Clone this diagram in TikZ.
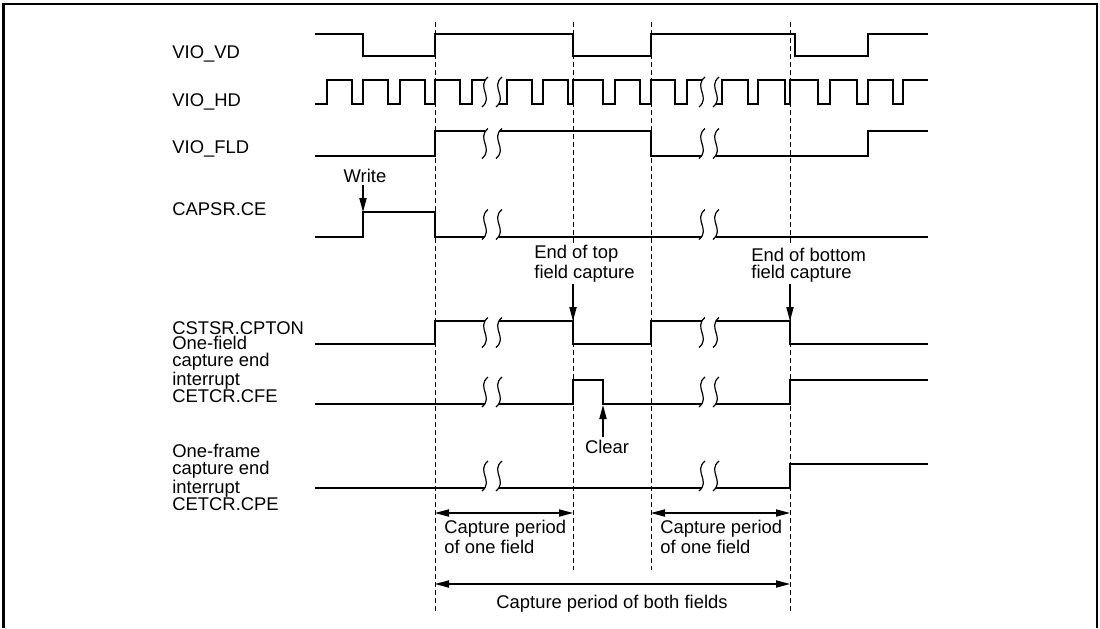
\documentclass[tikz,border=0pt]{standalone}
\usepackage{fontspec}
\setmainfont{Liberation Sans}
\usetikzlibrary{arrows.meta}

\tikzset{
  sig/.style={line width=1.3pt, line join=miter},
  grid/.style={line width=0.5pt, dash pattern=on 2.5pt off 1.5pt},
  ann/.style={line width=0.6pt, -{Triangle[length=7pt,width=3.6pt]}},
  span/.style={line width=0.6pt, {Triangle[length=7pt,width=3.6pt]}-{Triangle[length=7pt,width=3.6pt]}},
  lbl/.style={font=\fontsize{9.2}{8.4}\selectfont, inner sep=0pt, anchor=base west, align=left},
  txt/.style={font=\fontsize{9.2}{8.4}\selectfont, inner sep=1pt, fill=white, align=left},
  brk/.pic={\draw[line width=0.6pt] (3,-15) .. controls (-9,-5) and (9,5) .. (-3,15);
            \draw[line width=0.6pt] (17,-15) .. controls (5,-5) and (23,5) .. (11,15);}
}

\begin{document}
\begin{tikzpicture}[x=0.5pt, y=-0.5pt]
  \useasboundingbox (0,0) rectangle (1100,628);
  \draw[line width=1pt] (3.5,628) -- (3.5,3.5) -- (1096.5,3.5) -- (1096.5,628);

  % field boundaries
  \foreach \x/\yb [count=\i] in {435/612, 573/570, 651/570, 790/612} {
    \coordinate (g\i) at (\x,22);
    \coordinate (gb\i) at (\x,\yb);
    \draw[grid] (g\i) -- (gb\i);
  }

  % signal names (base = last line)
  \node[lbl] (lvd) at (172,58) {VIO\_VD};
  \node[lbl] (lhd) at (172,106) {VIO\_HD};
  \node[lbl] (lfld) at (172,153) {VIO\_FLD};
  \node[lbl] (lce) at (172,215) {CAPSR.CE};
  \node[lbl] (lcpton) at (172,334) {CSTSR.CPTON};
  \node[lbl] (lcfe) at (172,402) {One-field\\capture end\\interrupt\\CETCR.CFE};
  \node[lbl] (lcpe) at (172,510) {One-frame\\capture end\\interrupt\\CETCR.CPE};

  % VIO_VD
  \draw[sig] (315,34) -- (363,34) -- (363,56) -- (435,56) -- (435,34) -- (573,34) -- (573,56)
    -- (651,56) -- (651,34) -- (795,34) -- (795,56) -- (868,56) -- (868,34) -- (928,34);

  % VIO_HD
  \draw[sig] (315,104) foreach \r/\f in {327/352, 363/388, 400/425, 435/460}
    { -- (\r,104) -- (\r,80) -- (\f,80) -- (\f,104) } -- (472,104) -- (472,80) -- (485,80);
  \draw[sig] (499,104) foreach \r/\f in {507/532, 543/568, 573/603, 615/640, 651/675}
    { -- (\r,104) -- (\r,80) -- (\f,80) -- (\f,104) } -- (687,104) -- (687,80) -- (702,80);
  \draw[sig] (716,104) foreach \r/\f in {722/748, 758/785, 790/818, 830/857, 868/893}
    { -- (\r,104) -- (\r,80) -- (\f,80) -- (\f,104) } -- (903,104) -- (903,80) -- (928,80);
  \pic at (485,92) {brk};
  \pic at (702,92) {brk};

  % VIO_FLD
  \draw[sig] (315,156) -- (435,156) -- (435,131) -- (485,131);
  \draw[sig] (499,131) -- (651,131) -- (651,156) -- (702,156);
  \draw[sig] (716,156) -- (868,156) -- (868,131) -- (928,131);
  \pic at (485,143.5) {brk};
  \pic at (702,143.5) {brk};

  % CAPSR.CE
  \draw[sig] (315,237) -- (363,237) -- (363,212) -- (435,212) -- (435,237) -- (485,237);
  \draw[sig] (499,237) -- (702,237);
  \draw[sig] (716,237) -- (928,237);
  \pic at (485,224.5) {brk};
  \pic at (702,224.5) {brk};

  % CSTSR.CPTON
  \draw[sig] (315,344) -- (435,344) -- (435,321) -- (485,321);
  \draw[sig] (499,321) -- (573,321) -- (573,344) -- (651,344) -- (651,321) -- (702,321);
  \draw[sig] (716,321) -- (790,321) -- (790,344) -- (928,344);
  \pic at (485,332.5) {brk};
  \pic at (702,332.5) {brk};

  % CETCR.CFE
  \draw[sig] (315,404) -- (485,404);
  \draw[sig] (499,404) -- (573,404) -- (573,380) -- (603,380) -- (603,404) -- (702,404);
  \draw[sig] (716,404) -- (790,404) -- (790,380) -- (928,380);
  \pic at (485,392) {brk};
  \pic at (702,392) {brk};

  % CETCR.CPE
  \draw[sig] (315,488) -- (485,488);
  \draw[sig] (499,488) -- (702,488);
  \draw[sig] (716,488) -- (790,488) -- (790,464) -- (928,464);
  \pic at (485,476) {brk};
  \pic at (702,476) {brk};

  % events
  \node[txt, anchor=base] (write) at (365,182) {Write};
  \coordinate (wrt) at (363,212);
  \draw[ann] (write.south -| wrt) -- (wrt);

  \node[txt, anchor=base west] (eot) at (532,278) {End of top\\field capture};
  \coordinate (eott) at (573,321);
  \draw[ann] (eot.south -| eott) -- (eott);

  \node[txt, anchor=base west] (eob) at (749,278) {End of bottom\\field capture};
  \coordinate (eobt) at (790,321);
  \draw[ann] (eob.south -| eobt) -- (eobt);

  \node[txt, anchor=base] (clear) at (607,453) {Clear};
  \coordinate (clrt) at (603,405);
  \draw[ann] (clear.north -| clrt) -- (clrt);

  % capture periods
  \node[txt, anchor=base west] (cp1) at (442,553) {Capture period\\of one field};
  \node[txt, anchor=base west] (cp2) at (658,553) {Capture period\\of one field};
  \node[txt, anchor=base] (cpb) at (612,608) {Capture period of both fields};
  \coordinate (s1) at (0,513);
  \coordinate (s2) at (0,584);
  \draw[span] (g1 |- s1) -- (g2 |- s1);
  \draw[span] (g3 |- s1) -- (g4 |- s1);
  \draw[span] (g1 |- s2) -- (g4 |- s2);
\end{tikzpicture}
\end{document}
